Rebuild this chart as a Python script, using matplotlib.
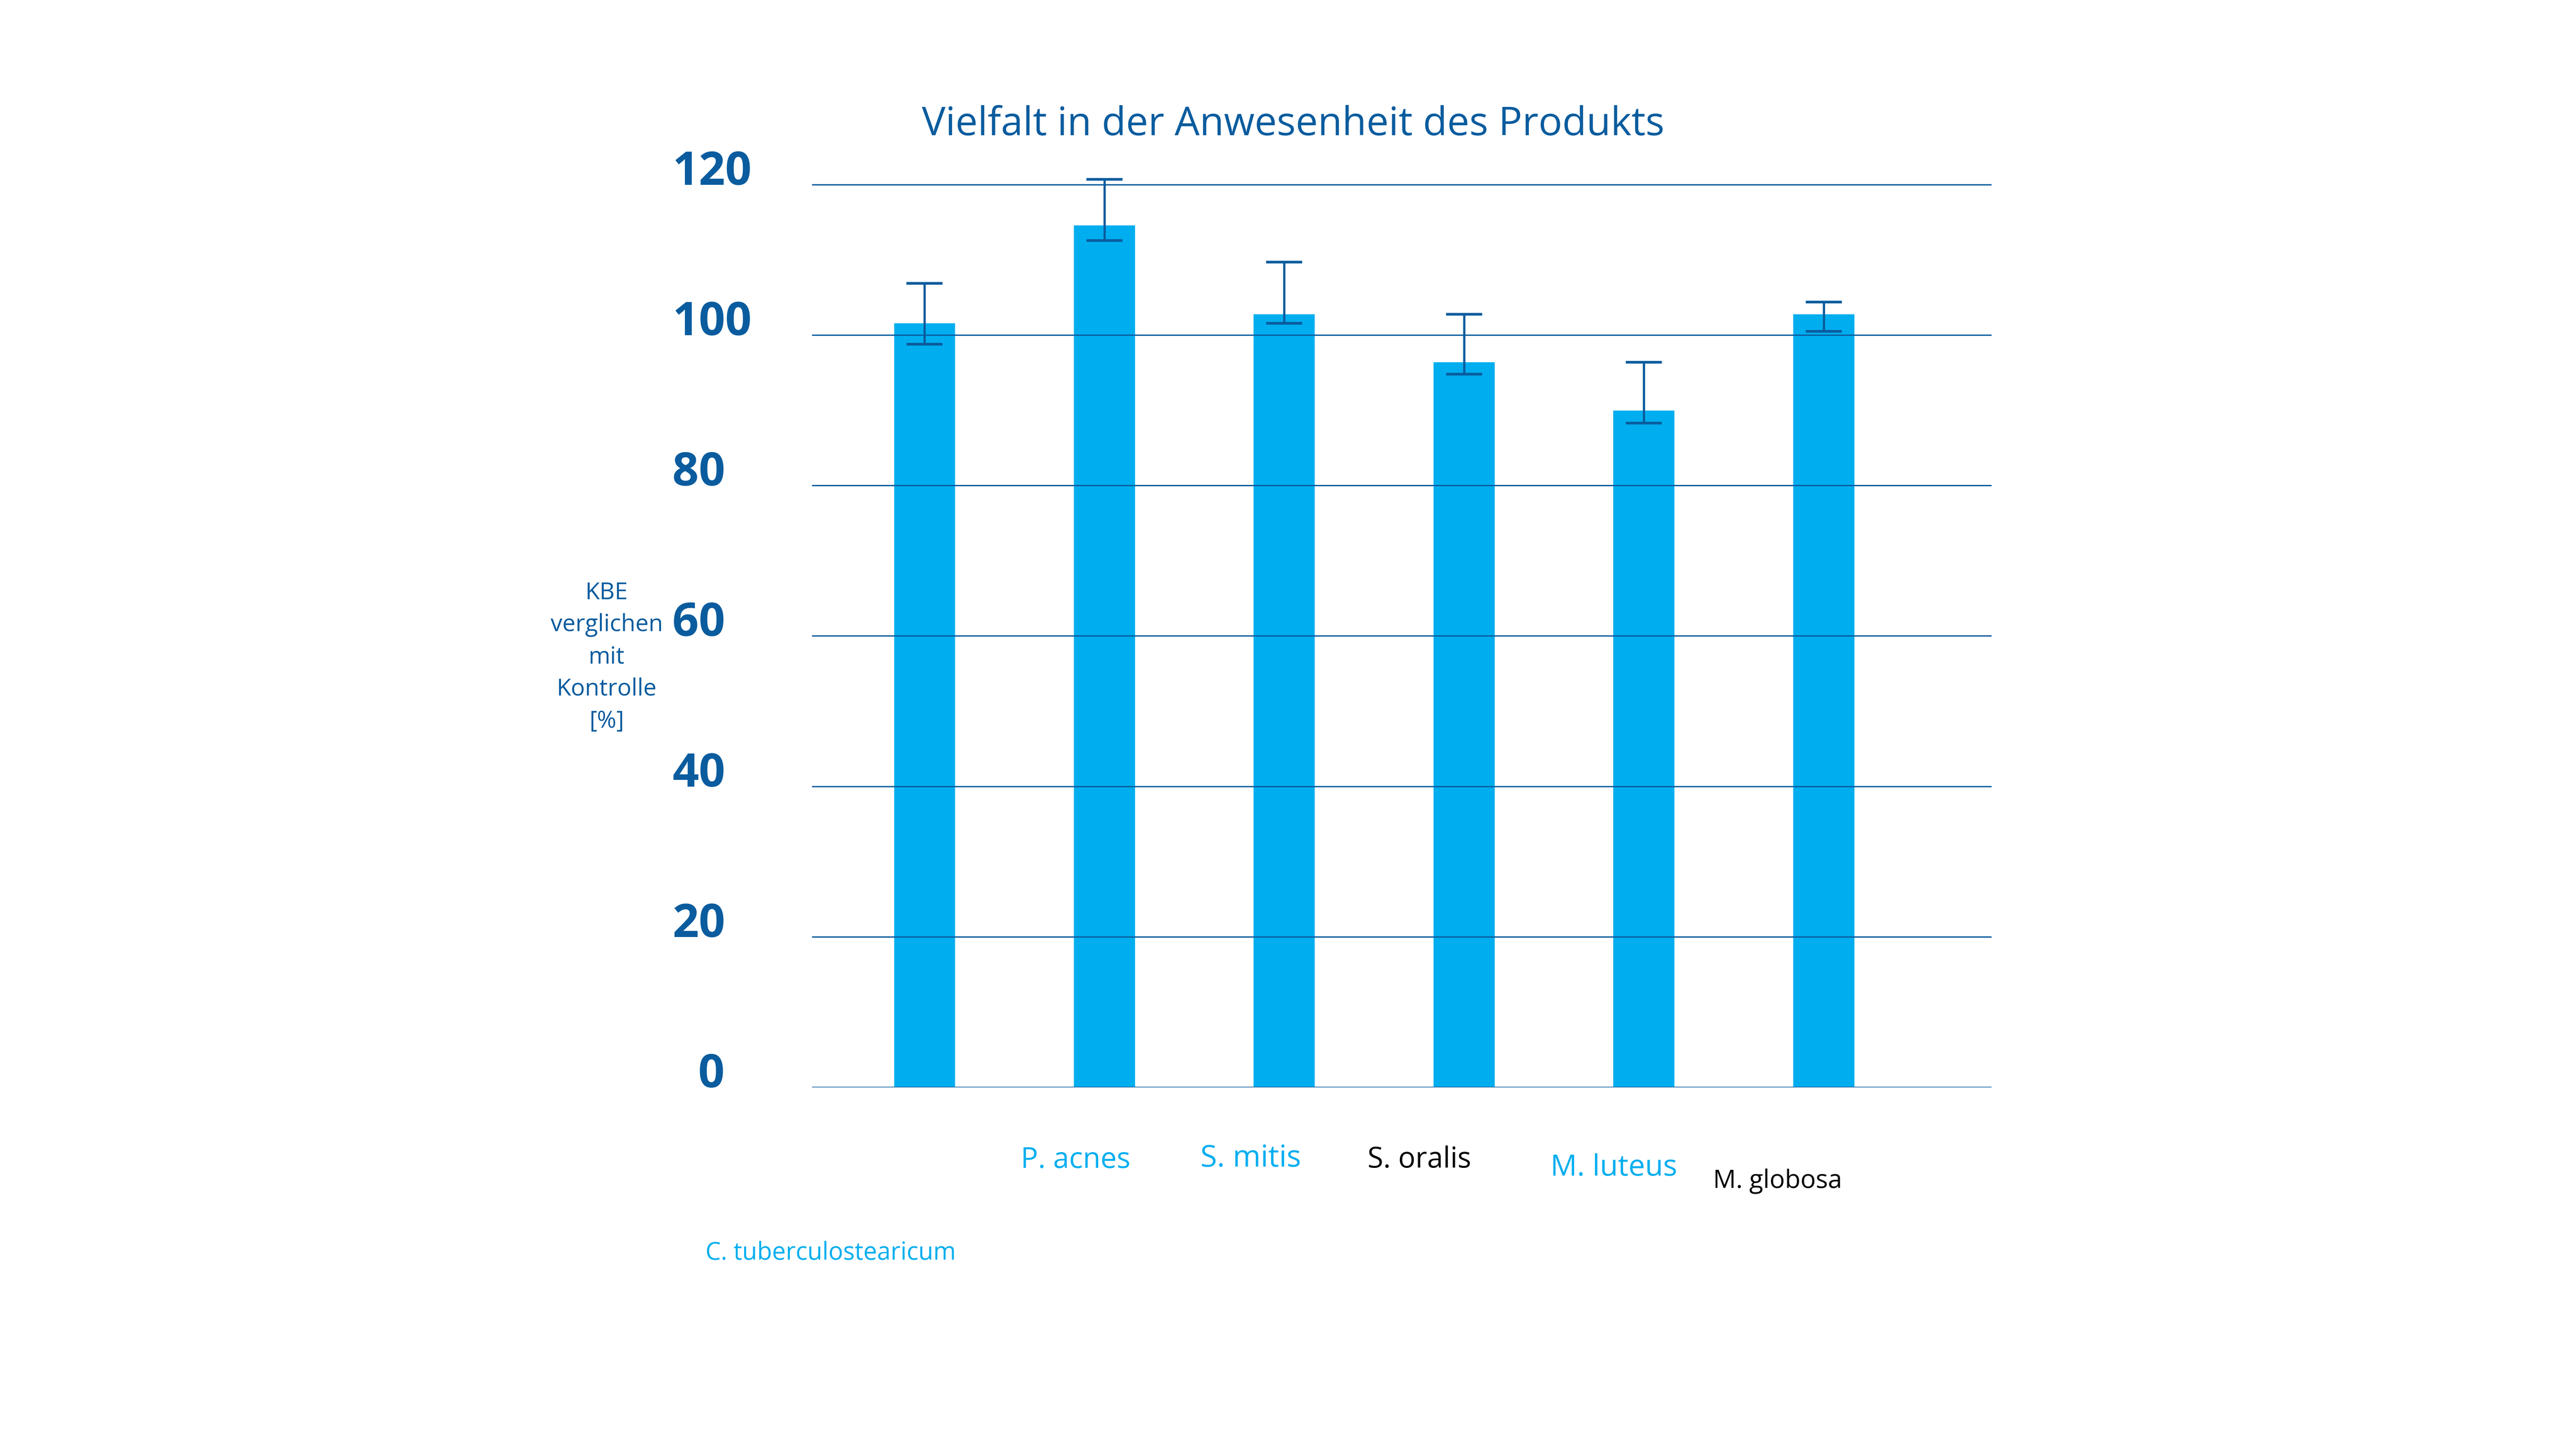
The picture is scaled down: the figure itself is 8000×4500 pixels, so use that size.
import numpy as np
import matplotlib
matplotlib.use("Agg")
import matplotlib.pyplot as plt

# Data
categories = ["C. tuberculostearicum", "P. acnes", "S. mitis", "S. oralis", "M. luteus", "M. globosa"]
kbe_percent = [101.6, 114.6, 102.8, 96.4, 90.0, 102.8]
err_low = [98.8, 112.6, 101.6, 94.8, 88.3, 100.5]
err_high = [106.9, 120.7, 109.7, 102.8, 96.4, 104.4]
y_ticks = [0, 20, 40, 60, 80, 100, 120]
y_tick_labels = ["\u20070", "20", "40", "60", "80", "100", "120"]

CYAN = "#00AEEF"
DARK = "#0A5C9E"

plt.rcParams["font.family"] = ["Open Sans", "DejaVu Sans"]

fig = plt.figure(figsize=(16, 9), dpi=500)
ax = fig.add_axes([0.3153, 0.2495, 0.7731 - 0.3153, 0.6334])

x = np.arange(len(categories))
means = np.array(kbe_percent)
yerr = [means - np.array(err_low), np.array(err_high) - means]

ax.bar(x, means, width=0.34, color=CYAN, zorder=1)
ax.errorbar(x, means, yerr=yerr, fmt="none", ecolor=DARK, elinewidth=1.0,
            capsize=8, capthick=1.2, zorder=3)

ax.set_xlim(-0.625, 5.933)
ax.set_ylim(0, 122)
ax.set_yticks(y_ticks)
ax.set_yticklabels(y_tick_labels)
ax.set_xticks([])
ax.yaxis.grid(True, color=DARK, linewidth=0.6)
ax.set_axisbelow(False)
for s in ax.spines.values():
    s.set_visible(False)
# labels are left aligned in the original
ax.tick_params(axis="y", length=0, pad=62.5, labelsize=20.7, labelcolor=DARK)
for lab in ax.get_yticklabels():
    lab.set_fontweight("bold")
    lab.set_verticalalignment("baseline")
    lab.set_horizontalalignment("left")

# title and axis label
fig.text(0.502, 0.9067, "Vielfalt in der Anwesenheit des Produkts", ha="center",
         va="baseline", fontsize=17.7, color=DARK)
fig.text(0.2355, 0.5464, "KBE\nverglichen\nmit\nKontrolle\n[%]", ha="center",
         va="center", fontsize=10.5, color=DARK, linespacing=1.46)

# category labels (placed as in the original, not under their bars)
label_layout = [
    (0.3225, 0.1307, 10.9, CYAN),
    (0.4175, 0.1940, 12.9, CYAN),
    (0.4855, 0.1949, 13.5, CYAN),
    (0.5510, 0.1942, 12.8, "black"),
    (0.6265, 0.1887, 13.2, CYAN),
    (0.6900, 0.1802, 11.4, "black"),
]
for name, (lx, ly, size, col) in zip(categories, label_layout):
    fig.text(lx, ly, name, ha="center", va="baseline", fontsize=size, color=col)

fig.savefig("out.png", dpi=500, facecolor="white")
